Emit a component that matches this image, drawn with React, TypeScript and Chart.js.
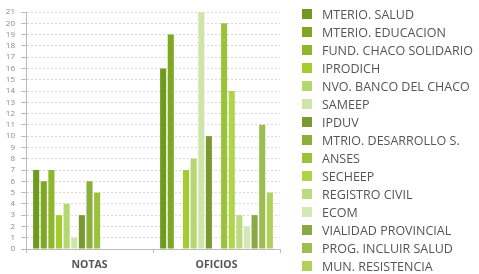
import React, { useEffect, useRef } from "react";
import { Chart, registerables } from "chart.js";

Chart.register(...registerables);

const categories = ["NOTAS", "OFICIOS"];
const seriesNames = [
  "MTERIO. SALUD",
  "MTERIO. EDUCACION",
  "FUND. CHACO SOLIDARIO",
  "IPRODICH",
  "NVO. BANCO DEL CHACO",
  "SAMEEP",
  "IPDUV",
  "MTRIO. DESARROLLO S.",
  "ANSES",
  "SECHEEP",
  "REGISTRO CIVIL",
  "ECOM",
  "VIALIDAD PROVINCIAL",
  "PROG. INCLUIR SALUD",
  "MUN. RESISTENCIA",
];
const notasValues = [7, 6, 7, 3, 4, 1, 3, 6, 5, 0, 0, 0, 0, 0, 0];
const oficiosValues = [16, 19, 0, 7, 8, 21, 10, 0, 20, 14, 3, 2, 3, 11, 5];
const seriesColors = [
  "#6f9a1e",
  "#7ea824",
  "#8db82b",
  "#a3cc2f",
  "#b4d770",
  "#d0e5aa",
  "#7a9a31",
  "#8ab03b",
  "#9cc23b",
  "#afd448",
  "#bdda80",
  "#d4e8b5",
  "#8aa846",
  "#9dbd50",
  "#b1d05c",
];
const yMax = 21;

export default function App() {
  const canvasRef = useRef<HTMLCanvasElement>(null);

  useEffect(() => {
    document.body.style.margin = "0";
    const ctx = canvasRef.current!.getContext("2d")!;
    const chart = new Chart(ctx, {
      type: "bar",
      data: {
        labels: categories,
        datasets: seriesNames.map((name, i) => ({
          label: name,
          data: [notasValues[i], oficiosValues[i]],
          backgroundColor: seriesColors[i],
          borderWidth: 0,
          categoryPercentage: 0.9,
          barPercentage: 0.8,
        })),
      },
      options: {
        responsive: false,
        animation: false,
        layout: { padding: { top: 12, right: 199, left: 0, bottom: 0 } },
        plugins: { legend: { display: false }, tooltip: { enabled: false } },
        scales: {
          x: {
            afterFit: (s: any) => {
              s.height = 25;
            },
            grid: {
              drawOnChartArea: false,
              drawTicks: true,
              tickLength: 4,
              color: "#bbbbbb",
              offset: true,
            },
            border: { color: "#bbbbbb" },
            ticks: {
              color: "#555555",
              padding: 6,
              font: { family: "Open Sans", size: 10.5, weight: "bold" },
            },
          },
          y: {
            min: 0,
            max: yMax,
            afterFit: (s: any) => {
              s.width = 26;
            },
            grid: {
              color: "#d8d8d8",
              tickLength: 5,
              tickColor: "#bbbbbb",
            },
            border: { color: "#bbbbbb", dash: [2, 2] },
            ticks: {
              stepSize: 1,
              autoSkip: false,
              color: "#888888",
              padding: 6,
              font: { family: "Open Sans", size: 8 },
            },
          },
        },
      },
    });
    return () => chart.destroy();
  }, []);

  return (
    <div style={{ position: "absolute", left: 0, top: 0, width: 479, height: 274, overflow: "hidden", background: "#fff" }}>
      <canvas ref={canvasRef} width={479} height={274} style={{ position: "absolute", left: 0, top: 0 }} />
      <div style={{ position: "absolute", left: 302, top: 5, fontFamily: "Open Sans", fontSize: 12.5, color: "#555" }}>
        {seriesNames.map((name, i) => (
          <div key={name} style={{ height: 18, display: "flex", alignItems: "center", whiteSpace: "nowrap" }}>
            <span style={{ display: "inline-block", width: 10, height: 10, background: seriesColors[i], marginRight: 10 }} />
            <span>{name}</span>
          </div>
        ))}
      </div>
    </div>
  );
}
